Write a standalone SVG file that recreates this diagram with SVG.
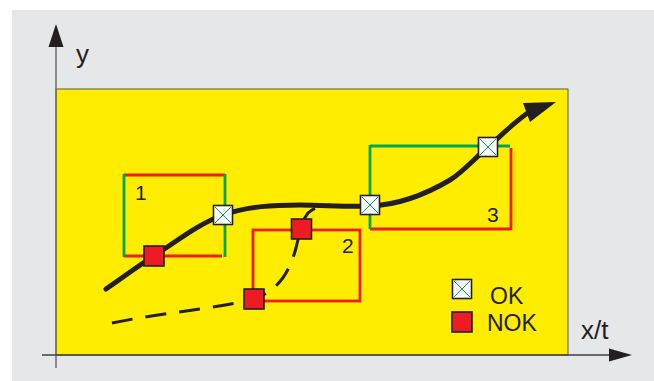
<svg xmlns="http://www.w3.org/2000/svg" xmlns:xlink="http://www.w3.org/1999/xlink" width="654" height="381" viewBox="0 0 654 381">
<style>
.txt{font-family:"Liberation Sans",Arial,sans-serif;fill:#231F20}
.axis{stroke:#6D6E71;stroke-width:1.5;fill:none}
.green{stroke:#00A651;stroke-width:2.8;fill:none}
.red{stroke:#ED1C24;stroke-width:2.8;fill:none}
.curve{stroke:#231F20;stroke-width:5;fill:none;stroke-linecap:round}
.dash{stroke:#231F20;stroke-width:3;fill:none;stroke-dasharray:21 13}
.head{fill:#231F20}
</style>
<defs>
<g id="okm">
<rect x="-9.5" y="-9.5" width="19" height="19" fill="#FFFFFF" stroke="#231F20" stroke-width="1.6"/>
<path d="M-8,-8 L8,8 M8,-8 L-8,8" stroke="#00A651" stroke-width="1" fill="none"/>
</g>
<rect id="nokm" x="-10" y="-10" width="20" height="20" fill="#ED1C24" stroke="#231F20" stroke-width="1.6"/>
</defs>
<rect x="12" y="10" width="642" height="371" fill="#E6E7E8"/>
<rect id="plot" x="56" y="89" width="512" height="266" fill="#FFED00" stroke="#58595B" stroke-width="1"/>
<g id="axes">
<line class="axis" x1="56" y1="46" x2="56" y2="368"/>
<polygon class="head" points="56,24 48.5,47 63.5,47"/>
<line x1="42" y1="355" x2="610" y2="355" stroke="#414042" stroke-width="1.5"/>
<polygon class="head" points="632,355 609,348.5 609,361.5"/>
<text class="txt" x="76" y="63" font-size="26">y</text>
<text class="txt" x="581" y="339" font-size="26">x/t</text>
</g>
<g id="box1">
<line class="red" x1="124" y1="175" x2="225" y2="175"/>
<line class="red" x1="124" y1="256" x2="222" y2="256"/>
<line class="green" x1="124" y1="174" x2="124" y2="257"/>
<line class="green" x1="225" y1="174" x2="225" y2="257"/>
<text class="txt" x="135" y="200" font-size="21">1</text>
</g>
<g id="box2">
<rect class="red" x="253" y="230" width="107" height="71"/>
<text class="txt" x="342" y="253" font-size="21">2</text>
</g>
<g id="box3">
<line class="red" x1="370" y1="229" x2="511" y2="229"/>
<line class="red" x1="511" y1="148" x2="511" y2="230"/>
<line class="green" x1="370" y1="146" x2="510" y2="146"/>
<line class="green" x1="370" y1="145" x2="370" y2="229"/>
<text class="txt" x="487" y="222" font-size="21">3</text>
</g>
<g id="connectors">
<path class="dash" d="M112,323 C160,313 215,309 254,299 C280,290 290,270 296,248 C300,232 302,220 308,213 C313,208 320,206 330,205"/>
<path class="curve" d="M106,289 C122,278 138,266 154,256 C177,241 200,223 223,215 C249,206 274,205 300,205 C323,205 347,207 370,206 C397,205 423,196 450,180 C463,172 475,158 488,147 C503,134 515,121 532,110"/>
<polygon class="head" points="556,102 523,103 530,122"/>
</g>
<g id="nok1"><use href="#nokm" xlink:href="#nokm" x="154" y="256"/></g>
<g id="ok1"><use href="#okm" xlink:href="#okm" x="223" y="215"/></g>
<g id="nok2"><use href="#nokm" xlink:href="#nokm" x="301.5" y="229"/></g>
<g id="nok3"><use href="#nokm" xlink:href="#nokm" x="254" y="299"/></g>
<g id="ok2"><use href="#okm" xlink:href="#okm" x="370" y="205"/></g>
<g id="ok3"><use href="#okm" xlink:href="#okm" x="488" y="147"/></g>
<g id="legend">
<use href="#okm" xlink:href="#okm" x="462" y="289"/>
<use href="#nokm" xlink:href="#nokm" x="462" y="322"/>
<text class="txt" x="490" y="304" font-size="23">OK</text>
<text class="txt" x="487" y="331" font-size="23">NOK</text>
</g>
</svg>
